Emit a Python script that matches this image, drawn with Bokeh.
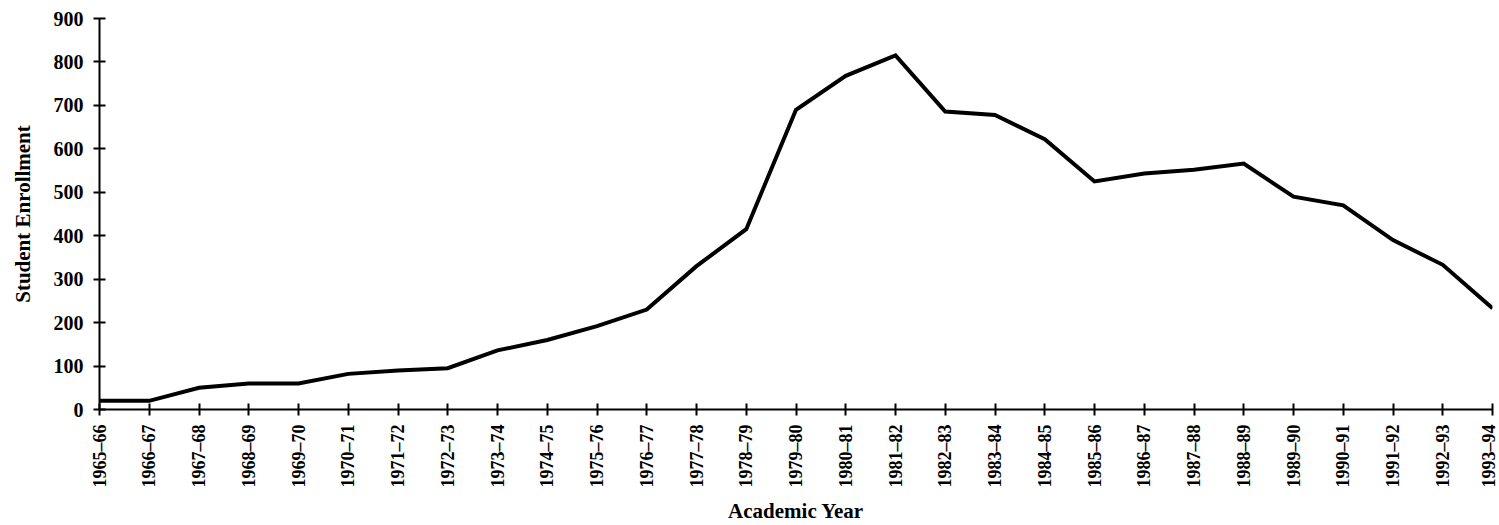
import math
from bokeh.plotting import figure
from bokeh.models import FixedTicker, Range1d
from bokeh.embed import file_html
from bokeh.resources import INLINE

years = ["1965–66", "1966–67", "1967–68", "1968–69", "1969–70", "1970–71", "1971–72",
         "1972–73", "1973–74", "1974–75", "1975–76", "1976–77", "1977–78", "1978–79",
         "1979–80", "1980–81", "1981–82", "1982–83", "1983–84", "1984–85", "1985–86",
         "1986–87", "1987–88", "1988–89", "1989–90", "1990–91", "1991–92", "1992–93",
         "1993–94"]
enrollment = [20, 20, 50, 60, 60, 82, 90, 95, 136, 160, 192, 230, 330, 415,
              690, 768, 815, 686, 678, 622, 525, 543, 552, 566, 490, 470, 390, 333, 233]
y_ticks = [0, 100, 200, 300, 400, 500, 600, 700, 800, 900]

FONT = "Liberation Serif"
xs = list(range(len(years)))

p = figure(width=1498, height=525, output_backend="svg", toolbar_location=None,
           x_range=Range1d(0, len(years) - 1), y_range=Range1d(0, 900),
           min_border_left=99, min_border_right=6, min_border_top=18, min_border_bottom=116)
p.outline_line_color = None
p.xgrid.visible = False
p.ygrid.visible = False
p.background_fill_color = "white"
p.border_fill_color = "white"

p.line(xs, enrollment, line_color="black", line_width=4, line_join="miter")

xa = p.xaxis[0]
xa.ticker = FixedTicker(ticks=xs)
xa.major_label_overrides = {i: y for i, y in enumerate(years)}
xa.major_label_orientation = math.pi / 2
xa.major_label_text_font = FONT
xa.major_label_text_font_style = "bold"
xa.major_label_text_font_size = "18px"
xa.major_label_text_color = "black"
xa.major_label_standoff = 9
xa.axis_label = "Academic Year"
xa.axis_label_text_font = FONT
xa.axis_label_text_font_style = "bold"
xa.axis_label_text_font_size = "21px"
xa.axis_label_text_color = "black"
xa.axis_label_standoff = 8
xa.axis_line_width = 2
xa.axis_line_color = "black"
xa.major_tick_in = 6
xa.major_tick_out = 6
xa.major_tick_line_width = 2
xa.major_tick_line_color = "black"
xa.minor_tick_line_color = None

ya = p.yaxis[0]
ya.ticker = FixedTicker(ticks=y_ticks)
ya.major_label_text_font = FONT
ya.major_label_text_font_style = "bold"
ya.major_label_text_font_size = "20px"
ya.major_label_text_color = "black"
ya.major_label_standoff = 10
ya.axis_label = "Student Enrollment"
ya.axis_label_text_font = FONT
ya.axis_label_text_font_style = "bold"
ya.axis_label_text_font_size = "21px"
ya.axis_label_text_color = "black"
ya.axis_label_standoff = 16
ya.axis_line_width = 2
ya.axis_line_color = "black"
ya.major_tick_in = 6
ya.major_tick_out = 6
ya.major_tick_line_width = 2
ya.major_tick_line_color = "black"
ya.minor_tick_line_color = None

open("out.html", "w").write(file_html(p, INLINE))
